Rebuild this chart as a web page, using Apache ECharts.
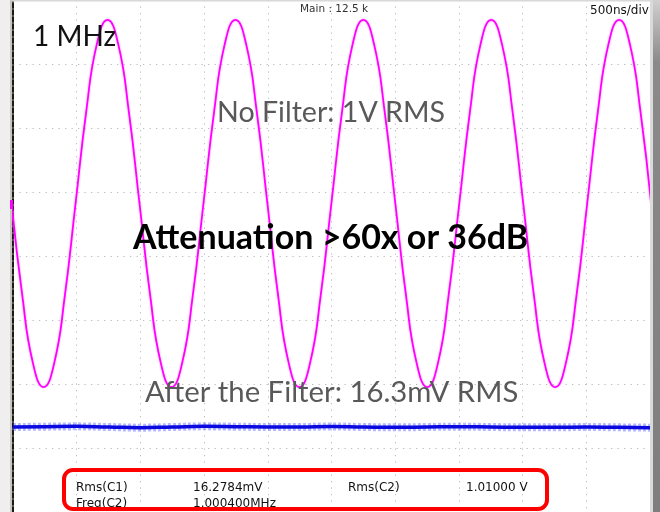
<!DOCTYPE html>
<html>
<head>
<meta charset="utf-8">
<script src="https://cdn.jsdelivr.net/npm/echarts@6/dist/echarts.min.js"></script>
<style>
html, body { margin: 0; padding: 0; background: #fff; }
#scope { width: 660px; height: 512px; }
</style>
</head>
<body>
<div id="scope"></div>
<script>
// time in us (500ns/div, 10 div), amplitude in screen divisions (8 div)
var c1Time = [-0.011, 0.073, 0.156, 0.240, 0.324, 0.407, 0.491, 0.575, 0.658, 0.742, 0.826, 0.909,
    0.993, 1.077, 1.160, 1.244, 1.328, 1.411, 1.495, 1.579, 1.662, 1.746, 1.830, 1.913,
    1.997, 2.081, 2.164, 2.248, 2.332, 2.415, 2.499, 2.583, 2.666, 2.750, 2.834, 2.917,
    3.001, 3.085, 3.168, 3.252, 3.336, 3.419, 3.503, 3.587, 3.670, 3.754, 3.838, 3.921,
    4.005, 4.089, 4.172, 4.256, 4.340, 4.423, 4.507, 4.591, 4.674, 4.758, 4.842, 4.925, 5.009];
var c1Div = [0.82, -0.62, -1.67, -2.05, -1.67, -0.62, 0.82, 2.26, 3.31, 3.69, 3.31, 2.26,
    0.82, -0.62, -1.67, -2.05, -1.67, -0.62, 0.82, 2.26, 3.31, 3.69, 3.31, 2.26,
    0.82, -0.62, -1.67, -2.05, -1.67, -0.62, 0.82, 2.26, 3.31, 3.69, 3.31, 2.26,
    0.82, -0.62, -1.67, -2.05, -1.67, -0.62, 0.82, 2.26, 3.31, 3.69, 3.31, 2.26,
    0.82, -0.62, -1.67, -2.05, -1.67, -0.62, 0.82, 2.26, 3.31, 3.69, 3.31, 2.26, 0.82];

var c2Time = [0, 0.25, 0.5, 0.75, 1.0, 1.25, 1.5, 1.75, 2.0, 2.25, 2.5, 2.75, 3.0, 3.25, 3.5, 3.75, 4.0, 4.25, 4.5, 4.75, 5.0];
var c2Div = [-2.672, -2.667, -2.662, -2.672, -2.682, -2.672, -2.662, -2.667, -2.672, -2.672, -2.664, -2.672, -2.677, -2.672, -2.667, -2.672, -2.677, -2.677, -2.672, -2.677, -2.682];

var measLabels = ["Rms(C1)", "Freq(C2)", "Rms(C2)"];
var measValues = ["16.2784mV", "1.000400MHz", "1.01000 V"];

function pairs(xs, ys) {
    var out = [];
    for (var i = 0; i < xs.length; i++) {
        out.push([xs[i], ys[i]]);
    }
    return out;
}

var bigFont = "Lato, 'Open Sans', sans-serif";
var smallFont = "'DejaVu Sans', sans-serif";

function label(text, x, y, size, color, weight, family) {
    return {
        type: 'text', z: 20,
        style: {
            text: text, x: x, y: y, fill: color,
            font: (weight || 'normal') + ' ' + size + 'px ' + (family || bigFont),
            textVerticalAlign: 'middle'
        }
    };
}

var myChart = echarts.init(document.getElementById('scope'));
var dotted = { color: '#bdbdbd', type: [1.3, 5.2], width: 1 };

var option = {
    animation: false,
    backgroundColor: '#ffffff',
    grid: { left: 13, right: 10, top: 0, bottom: 0 },
    xAxis: {
        type: 'value', min: 0, max: 5, interval: 0.5,
        axisLine: { show: false }, axisTick: { show: false }, axisLabel: { show: false },
        splitLine: { show: true, lineStyle: dotted }
    },
    yAxis: {
        type: 'value', min: -4, max: 4, interval: 1,
        axisLine: { show: true, onZero: false, lineStyle: { color: '#1a1a1a', width: 2, type: [5, 2] } },
        axisTick: { show: false }, axisLabel: { show: false },
        splitLine: { show: true, lineStyle: dotted }
    },
    series: [
        {
            name: 'C2', type: 'line', smooth: true, showSymbol: false, z: 5,
            lineStyle: { color: '#ff00ff', width: 1.8, shadowBlur: 2, shadowColor: 'rgba(255,120,255,0.7)' },
            data: pairs(c1Time, c1Div)
        },
        {
            name: 'C1 halo', type: 'line', smooth: true, showSymbol: false, z: 4,
            lineStyle: { color: 'rgba(70,80,255,0.4)', width: 8, type: [3, 2] },
            data: pairs(c2Time, c2Div)
        },
        {
            name: 'C1', type: 'line', smooth: true, showSymbol: false, z: 6,
            lineStyle: { color: '#0a0ae0', width: 3.5 },
            data: pairs(c2Time, c2Div)
        }
    ],
    graphic: [
        // screen frame
        { type: 'rect', z: 1, shape: { x: 0, y: 0, width: 10, height: 512 }, style: { fill: '#efefef' } },
        { type: 'rect', z: 1, shape: { x: 10, y: 0, width: 2, height: 512 }, style: { fill: '#cbc7c0' } },
        { type: 'rect', z: 30, shape: { x: 650, y: 0, width: 3, height: 512 }, style: { fill: '#dadada' } },
        {
            type: 'rect', z: 30, shape: { x: 653, y: 0, width: 7, height: 512 },
            style: { fill: new echarts.graphic.LinearGradient(0, 0, 0, 1, [
                { offset: 0, color: '#d0d0d0' }, { offset: 0.12, color: '#8a8a8a' }, { offset: 1, color: '#7e7e7e' }]) }
        },
        { type: 'rect', z: 2, shape: { x: 12, y: 0, width: 638, height: 1.5 }, style: { fill: '#d8d8d8' } },
        { type: 'rect', z: 10, shape: { x: 10, y: 200, width: 3, height: 9 }, style: { fill: '#ff00ff' } },

        label('Main : 12.5 k', 300, 9, 10.5, '#333333', 'normal', smallFont),
        label('500ns/div', 590, 11, 12, '#111111', 'normal', smallFont),
        label('1 MHz', 33, 37, 28, '#111111'),
        label('No Filter: 1V RMS', 217, 113, 28.6, '#595959'),
        label('Attenuation >60x or 36dB', 133, 238, 34, '#000000', 'bold'),
        label('After the Filter: 16.3mV RMS', 145, 393, 29.3, '#595959'),

        // measurement panel
        label(measLabels[0], 76, 488, 12, '#111111', 'normal', smallFont),
        label(measValues[0], 193, 488, 12, '#111111', 'normal', smallFont),
        label(measLabels[1], 76, 504, 12, '#111111', 'normal', smallFont),
        label(measValues[1], 193, 504, 12, '#111111', 'normal', smallFont),
        label(measLabels[2], 348, 488, 12, '#111111', 'normal', smallFont),
        label(measValues[2], 466, 488, 12, '#111111', 'normal', smallFont),
        {
            type: 'rect', z: 25,
            shape: { x: 64, y: 470, width: 483, height: 39, r: 9 },
            style: { fill: 'none', stroke: '#ff0000', lineWidth: 4 }
        }
    ]
};

myChart.setOption(option);
</script>
</body>
</html>
